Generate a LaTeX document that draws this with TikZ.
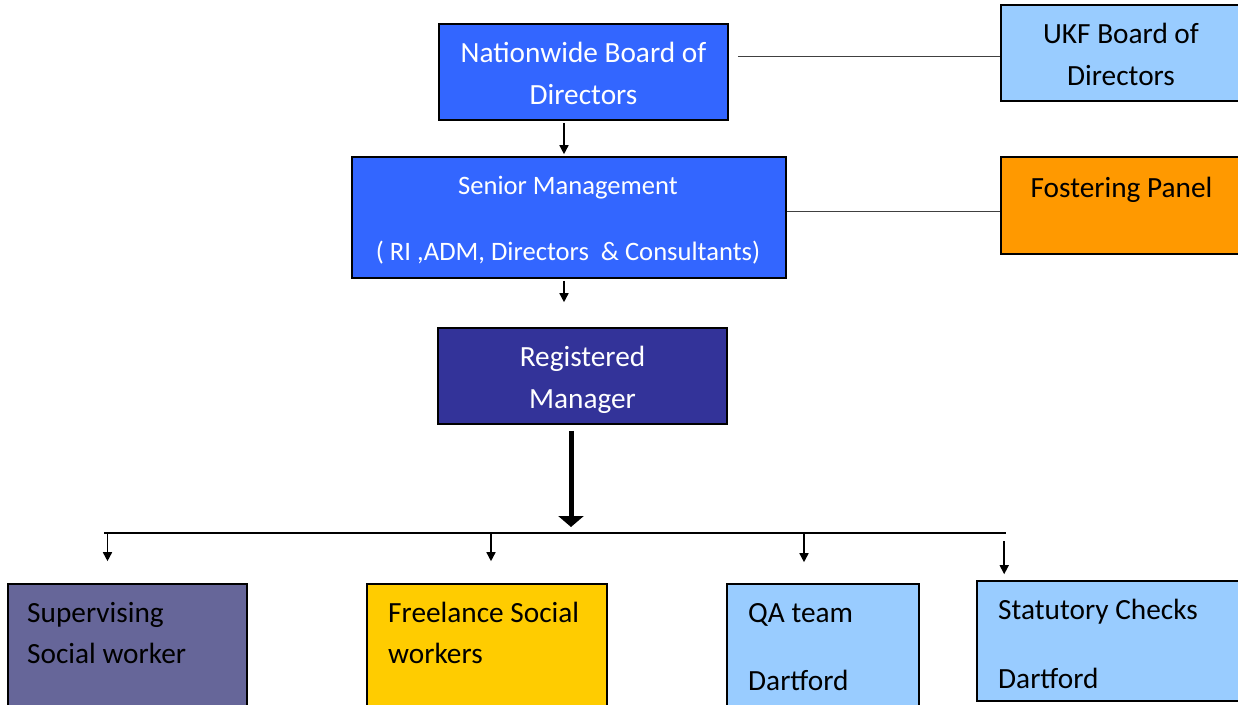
\documentclass[tikz,border=0pt]{standalone}
\usepackage{fontspec}
\setmainfont{Carlito}
\usetikzlibrary{arrows.meta}
\definecolor{cblue}{HTML}{3366FF}
\definecolor{clight}{HTML}{99CCFF}
\definecolor{corange}{HTML}{FF9900}
\definecolor{cnavy}{HTML}{333399}
\definecolor{cslate}{HTML}{666699}
\definecolor{cyellow}{HTML}{FFCC00}
\begin{document}
\begin{tikzpicture}[x=1pt,y=-1pt,
  box/.style={draw=black, line width=1.6pt, inner sep=0pt, rectangle},
  txt/.style={font=\fontsize{29.3}{42}\selectfont, inner sep=0pt, anchor=base},
  txtl/.style={font=\fontsize{29.3}{42}\selectfont, inner sep=0pt, anchor=base west},
  conn/.style={draw=black!75, line width=1pt},
  arr/.style={line width=1.5pt, -{Triangle[width=9pt,length=9pt]}},
  bigarr/.style={line width=5pt, -{Triangle[width=25pt,length=11pt]}}]
\useasboundingbox (0,0) rectangle (1238,704);
\fill[white] (0,0) rectangle (1238,704);
\clip (0,0) rectangle (1238,704);

% boxes
\node[box, fill=cblue, minimum width=289pt, minimum height=96pt] (nbd) at (583.5,72) {};
\node[box, fill=clight, minimum width=280pt, minimum height=96pt] (ukf) at (1141,53) {};
\node[box, fill=cblue, minimum width=434pt, minimum height=121pt] (sm) at (569,217.5) {};
\node[box, fill=corange, minimum width=280pt, minimum height=97pt] (fp) at (1141,205.5) {};
\node[box, fill=cnavy, minimum width=289pt, minimum height=96pt] (rm) at (582.5,376) {};
\node[box, fill=cslate, minimum width=239pt, minimum height=140pt] (sup) at (127.5,654) {};
\node[box, fill=cyellow, minimum width=240pt, minimum height=140pt] (free) at (487,654) {};
\node[box, fill=clight, minimum width=192pt, minimum height=140pt] (qa) at (823,654) {};
\node[box, fill=clight, minimum width=300pt, minimum height=120pt] (stat) at (1127,641) {};

% texts
\node[txt, text=white] (nbd1) at (583.5,62) {Nationwide Board of};
\node[txt, text=white] (nbd2) at (583.5,104) {Directors};
\node[txt] (ukf1) at (1121,43) {UKF Board of};
\node[txt] (ukf2) at (1121,85) {Directors};
\node[txt, text=white, font=\fontsize{26.6}{32}\selectfont] (sm1) at (568,194) {Senior Management};
\node[txt, text=white, font=\fontsize{26.6}{32}\selectfont] (sm2) at (568,260) {( RI ,ADM, Directors~~\& Consultants)};
\node[txt] (fp1) at (1121.5,197) {Fostering Panel};
\node[txt, text=white] (rm1) at (582.5,366) {Registered};
\node[txt, text=white] (rm2) at (582.5,408) {Manager};
\node[txtl] (sup1) at (27,622) {Supervising};
\node[txtl] (sup2) at (27,663) {Social worker};
\node[txtl] (free1) at (388,622) {Freelance Social};
\node[txtl] (free2) at (388,663) {workers};
\node[txtl] (qa1) at (748,622) {QA team};
\node[txtl] (qa2) at (748,690) {Dartford};
\node[txtl] (stat1) at (998,619) {Statutory Checks};
\node[txtl] (stat2) at (998,688) {Dartford};

% side connectors
\draw[conn] ([xshift=9pt]nbd.east |- ukf.west) ++(0,3) -- ([yshift=-3pt]ukf.west);
\draw[conn] (sm.east |- fp.west) ++(0,5.5) -- ([yshift=-5.5pt]fp.west);

% vertical arrows
\draw[arr, shorten <=2pt, shorten >=2pt] ([xshift=-19.5pt]nbd.south) -- ([xshift=-19.5pt]nbd.south |- sm.north);
\draw[arr, shorten <=2pt, shorten >=25pt] ([xshift=-5pt]sm.south) -- ([xshift=-5pt]sm.south |- rm.north);

% bus
\coordinate (busL) at (104,533);
\coordinate (busR) at (1006,533);
\draw[conn, draw=black, line width=1.2pt] (busL) -- (busR);
\draw[bigarr, shorten <=6pt, shorten >=6pt] ([xshift=-11.5pt]rm.south) -- ([xshift=-11.5pt]rm.south |- busL);

% drops
\draw[arr, shorten >=22pt] ([xshift=-20pt]sup.north |- busL) -- ([xshift=-20pt]sup.north);
\draw[arr, shorten >=22pt] ([xshift=4pt]free.north |- busL) -- ([xshift=4pt]free.north);
\draw[arr, shorten >=21pt] ([xshift=-19pt]qa.north |- busL) -- ([xshift=-19pt]qa.north);
\draw[arr, shorten <=8pt, shorten >=6pt] ([xshift=28pt]stat.north west |- busL) -- ([xshift=28pt]stat.north west);
\end{tikzpicture}
\end{document}
